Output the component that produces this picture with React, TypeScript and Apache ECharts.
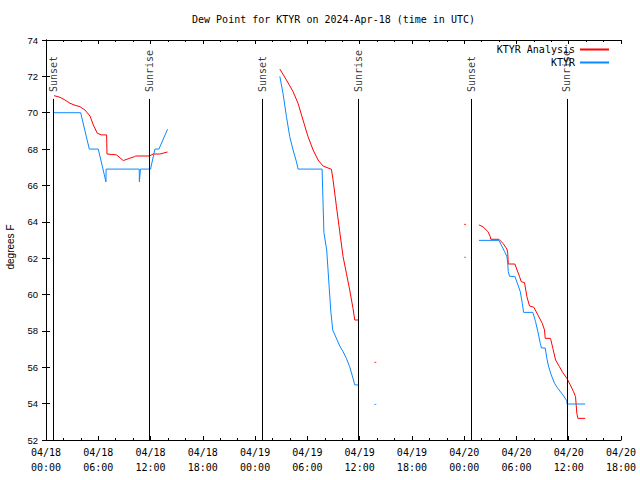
import React, { useEffect, useRef } from "react";
import * as echarts from "echarts";

// Hours since 2024-04-18 00:00 UTC; null value = gap
const analysisHours = [
  0.92, 1.6, 2.18, 2.75, 3.33, 3.9, 4.47, 5.05, 5.43, 5.89, 6.38, 6.96, 7.0, 8.1, 8.87, 9.63, 10.2, 10.3, 11.86, 12.3, 13.07, 13.95,
  20,
  26.84, 27.6, 28.36, 28.93, 29.5, 30.08, 30.66, 31.23, 31.8, 32.76, 32.95, 33.34, 33.72, 34.1, 34.48, 34.86, 35.24, 35.44, 35.93,
  44,
  49.69, 50.15, 50.73, 51.0, 51.05, 51.99, 52.45, 52.91, 53.0, 53.06, 53.82, 54.36, 54.55, 54.93, 55.2, 55.5, 56.0, 56.46, 56.96,
  57.22, 57.3, 57.91, 58.18, 58.49, 58.94, 59.33, 59.79, 60.18, 60.55, 60.78, 60.93, 61.05, 61.89,
];
const analysisDewF = [
  70.94, 70.85, 70.7, 70.52, 70.41, 70.33, 70.15, 69.82, 69.33, 68.87, 68.78, 68.78, 67.73, 67.68, 67.37, 67.5, 67.59, 67.62, 67.62, 67.73, 67.73, 67.84,
  null,
  72.4, 71.8, 71.16, 70.52, 69.6, 68.68, 67.95, 67.4, 67.07, 66.89, 66.3, 64.83, 63.45, 62.08, 61.17, 60.25, 59.24, 58.6, 58.6,
  null,
  63.83, 63.73, 63.46, 63.18, 63.04, 63.04, 62.82, 62.5, 62.27, 61.68, 61.68, 60.98, 60.71, 60.65, 59.88, 59.37, 59.3, 58.88, 58.42,
  58.05, 57.59, 57.59, 57.04, 56.4, 56.03, 55.7, 55.39, 55.03, 54.66, 54.38, 53.47, 53.19, 53.19,
];
const analysisLoneHours = [37.8, 48.1];
const analysisLoneDewF = [56.27, 63.86];

const obsHours = [
  0.84, 3.98, 4.97, 6.0, 6.88, 6.9, 10.7, 10.72, 10.84, 12.0, 12.5, 12.96, 13.95,
  20,
  26.84, 27.2, 27.6, 27.98, 28.36, 28.75, 28.93, 31.69, 31.9, 32.22, 32.68, 32.91, 33.72, 34.1, 34.48, 34.86, 35.24, 35.44, 35.93,
  44,
  49.69, 51.99, 52.26, 52.64, 52.91, 53.0, 53.06, 53.21, 53.82, 54.17, 54.44, 54.67, 54.82, 55.88, 56.19, 56.46, 56.73, 56.88,
  57.3, 57.49, 57.68, 57.99, 58.37, 58.75, 59.33, 59.79, 59.8, 61.89,
];
const obsDewF = [
  70.0, 70.0, 68.0, 68.0, 66.2, 66.9, 66.9, 66.2, 66.9, 66.9, 68.0, 68.0, 69.09,
  null,
  72.0, 71.07, 69.78, 68.68, 67.95, 67.3, 66.9, 66.9, 63.4, 62.45, 59.15, 58.05, 57.17, 56.86, 56.49, 56.03, 55.39, 55.03, 55.03,
  null,
  62.98, 62.98, 62.73, 62.36, 62.08, 61.72, 61.26, 61.0, 61.0, 60.53, 60.16, 59.52, 59.02, 59.02, 58.51, 57.96, 57.32, 57.06,
  57.06, 56.49, 56.07, 55.58, 55.12, 54.84, 54.48, 54.15, 53.98, 53.98,
];
const obsLoneHours = [37.8, 48.1];
const obsLoneDewF = [53.96, 62.05];

const sunHours = [0.84, 11.86, 24.87, 35.87, 48.84, 59.8];
const sunLabels = ["Sunset", "Sunrise", "Sunset", "Sunrise", "Sunset", "Sunrise"];
const sunLineTop = 70.76;
const sunLabelBase = 71.14;

const dayLabels = ["04/18", "04/19", "04/20", "04/21"];

const MONO = "DejaVu Sans Mono";
const SANS = "Liberation Sans";
const RED = "#ff0000";
const BLUE = "#0a88ff";

function fmtHour(v: number): string {
  const d = Math.floor(v / 24 + 1e-6);
  const hh = Math.round(v - d * 24);
  return dayLabels[d] + "\n" + String(hh).padStart(2, "0") + ":00";
}

export default function App() {
  const ref = useRef<HTMLDivElement>(null);
  useEffect(() => {
    if (!ref.current) return;
    const chart = echarts.init(ref.current, null, { renderer: "svg" });
    const pair = (hs: number[], vs: (number | null)[]) => hs.map((h, i) => [h, vs[i]]);
    const xBase = {
      type: "value" as const,
      min: 0,
      max: 66,
      interval: 6,
      axisLine: { lineStyle: { color: "#000", width: 1 } },
      axisTick: { inside: true, length: 4, lineStyle: { color: "#000" } },
      minorTick: { show: true, splitNumber: 3, length: 2, lineStyle: { color: "#000" } },
      splitLine: { show: false },
    };
    const yBase = {
      type: "value" as const,
      min: 52,
      max: 74,
      interval: 2,
      axisLine: { show: true, lineStyle: { color: "#000", width: 1 } },
      axisTick: { show: true, inside: true, length: 4, lineStyle: { color: "#000" } },
      splitLine: { show: false },
    };
    const legendBase = {
      orient: "horizontal" as const,
      align: "right" as const,
      right: 31,
      itemWidth: 29,
      itemHeight: 2,
      icon: "rect",
      padding: 0,
      selectedMode: false,
      textStyle: { fontFamily: MONO, fontSize: 10, color: "#000", lineHeight: 12 },
    };
    chart.setOption({
      animation: false,
      backgroundColor: "#fff",
      title: {
        text: "Dew Point for KTYR on 2024-Apr-18 (time in UTC)",
        left: 333.5,
        top: 14,
        textAlign: "center",
        padding: 0,
        textStyle: { fontFamily: MONO, fontSize: 10, fontWeight: "normal", color: "#000" },
      },
      legend: [
        { ...legendBase, data: ["KTYR Analysis"], top: 43.5 },
        { ...legendBase, data: ["KTYR"], top: 56.5 },
      ],
      grid: { left: 46, right: 19, top: 40, bottom: 40, containLabel: false, outerBoundsMode: "none" },
      xAxis: [
        {
          ...xBase,
          position: "bottom",
          axisLabel: {
            interval: 0,
            hideOverlap: false,
            showMaxLabel: true,
            showMinLabel: true,
            margin: 5,
            fontFamily: MONO,
            fontSize: 10,
            lineHeight: 15,
            color: "#000",
            formatter: (v: number) => fmtHour(v),
          },
        },
        { ...xBase, position: "top", axisLabel: { show: false } },
      ],
      yAxis: [
        {
          ...yBase,
          position: "left",
          name: "degrees F",
          nameLocation: "middle",
          nameGap: 31,
          nameTextStyle: { fontFamily: SANS, fontSize: 10, color: "#000", padding: [0, 14, 0, 0] },
          axisLabel: { margin: 8, fontFamily: SANS, fontSize: 9.5, color: "#000" },
        },
        { ...yBase, position: "right", axisLabel: { show: false } },
      ],
      series: [
        {
          name: "KTYR Analysis",
          type: "line",
          data: pair(analysisHours, analysisDewF),
          showSymbol: false,
          connectNulls: false,
          color: RED,
          lineStyle: { color: RED, width: 1 },
        },
        {
          name: "KTYR Analysis",
          type: "scatter",
          data: pair(analysisLoneHours, analysisLoneDewF),
          symbol: "rect",
          symbolSize: [2, 1],
          color: RED,
          itemStyle: { color: RED },
        },
        {
          name: "KTYR",
          type: "line",
          data: pair(obsHours, obsDewF),
          showSymbol: false,
          connectNulls: false,
          color: BLUE,
          lineStyle: { color: BLUE, width: 1 },
        },
        {
          name: "KTYR",
          type: "scatter",
          data: pair(obsLoneHours, obsLoneDewF),
          symbol: "rect",
          symbolSize: [2, 1],
          color: BLUE,
          itemStyle: { color: BLUE },
        },
        {
          name: "sun",
          type: "scatter",
          symbolSize: 0,
          silent: true,
          data: sunHours.map((h, i) => ({ value: [h, sunLabelBase], name: sunLabels[i] })),
          label: {
            show: true,
            formatter: "{b}",
            position: "inside",
            rotate: 90,
            align: "left",
            verticalAlign: "middle",
            fontFamily: MONO,
            fontSize: 10,
            color: "#000",
          },
          markLine: {
            silent: true,
            symbol: ["none", "none"],
            label: { show: false },
            lineStyle: { color: "#000", width: 1, type: "solid" },
            data: sunHours.map((h) => [{ coord: [h, 52] }, { coord: [h, sunLineTop] }]),
          },
        },
      ],
    });
    return () => chart.dispose();
  }, []);
  return <div ref={ref} style={{ width: 640, height: 480, position: "absolute", left: 0, top: 0 }} />;
}
